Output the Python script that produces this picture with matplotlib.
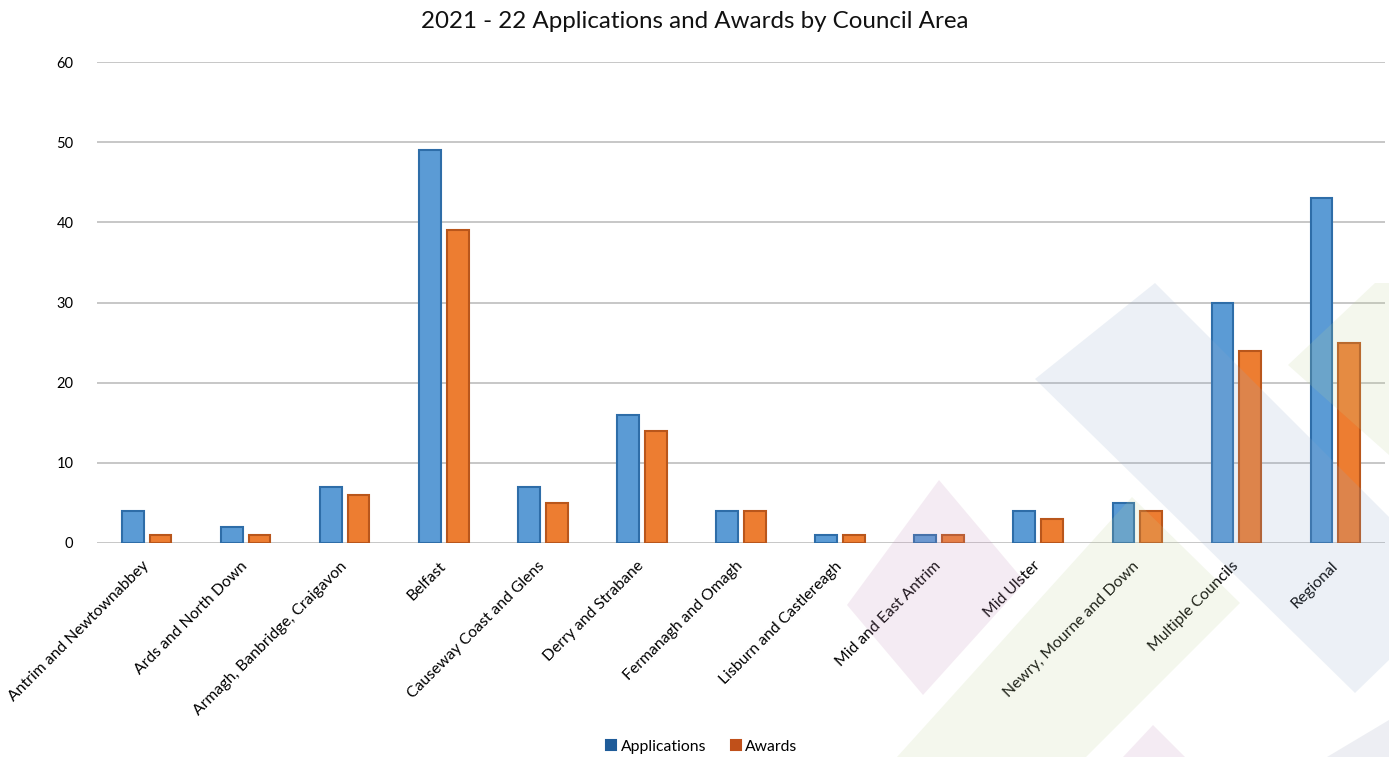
import numpy as np
import matplotlib
matplotlib.use("Agg")
import matplotlib.pyplot as plt
from matplotlib.patches import Polygon

# data
areas = ["Antrim and Newtownabbey", "Ards and North Down", "Armagh, Banbridge, Craigavon",
         "Belfast", "Causeway Coast and Glens", "Derry and Strabane", "Fermanagh and Omagh",
         "Lisburn and Castlereagh", "Mid and East Antrim", "Mid Ulster",
         "Newry, Mourne and Down", "Multiple Councils", "Regional"]
applications = [4, 2, 7, 49, 7, 16, 4, 1, 1, 4, 5, 30, 43]
awards = [1, 1, 6, 39, 5, 14, 4, 1, 1, 3, 4, 24, 25]

plt.rcParams['font.family'] = ['Lato', 'DejaVu Sans']

W, H = 1389, 757
fig = plt.figure(figsize=(W / 100, H / 100), dpi=100)
ax = fig.add_axes([97 / W, 1 - 543 / H, (1385 - 97) / W, (543 - 62) / H])

x = np.arange(len(areas))
w = 0.22
ax.bar(x - 0.14, applications, w, color="#5B9BD5", edgecolor="#2E6DA8", linewidth=1.5,
       label="Applications", zorder=3)
ax.bar(x + 0.14, awards, w, color="#ED7D31", edgecolor="#B9561B", linewidth=1.5,
       label="Awards", zorder=3)

ax.set_xlim(-0.5, len(areas) - 0.5)
ax.set_ylim(0, 60)
ax.set_yticks(range(0, 61, 10))
ax.yaxis.grid(True, color="#BDBDBD", linewidth=1.2, zorder=0)
ax.set_axisbelow(True)
for s in ax.spines.values():
    s.set_visible(False)
ax.tick_params(axis="both", length=0, labelsize=10.5, colors="#000000")
ax.tick_params(axis="y", pad=17)
ax.set_xticks(x)
ax.set_xticklabels(areas, rotation=45, ha="right", va="center", rotation_mode="anchor",
                   fontsize=11.3)
ax.tick_params(axis="x", pad=15)

fig.suptitle("2021 - 22 Applications and Awards by Council Area", y=1 - 22 / H, va="center",
             fontsize=17.4, color="#111111")

leg = fig.legend(loc="center", bbox_to_anchor=(702 / W, 1 - 747 / H), ncol=2, frameon=False,
                 fontsize=11.3, handlelength=0.6, handleheight=0.6, handletextpad=0.3,
                 columnspacing=1.6)
for h, c in zip(leg.legend_handles, ["#1F5C99", "#C0501A"]):
    h.set_facecolor(c)
    h.set_edgecolor(c)

# decorative translucent diamonds over the chart (figure pixel coords)
shapes = [
    ([(1035, 379), (1155, 283), (1389, 517), (1389, 660), (1355, 693)], (145, 170, 205)),
    ([(1288, 365), (1375, 283), (1389, 283), (1389, 455)], (190, 210, 150)),
    ([(897, 757), (1132, 497), (1240, 603), (1086, 757)], (190, 210, 150)),
    ([(847, 605), (939, 480), (1025, 582), (923, 695)], (195, 140, 185)),
    ([(1123, 757), (1153, 725), (1185, 757)], (195, 140, 185)),
    ([(1327, 757), (1389, 720), (1389, 757)], (150, 160, 185)),
]
for pts, col in shapes:
    pts = [(px / W, 1 - py / H) for px, py in pts]
    fig.patches.append(Polygon(pts, closed=True, transform=fig.transFigure,
                               facecolor=[c / 255 for c in col], alpha=0.17,
                               edgecolor="none", zorder=10))

fig.savefig("out.png", dpi=100)
